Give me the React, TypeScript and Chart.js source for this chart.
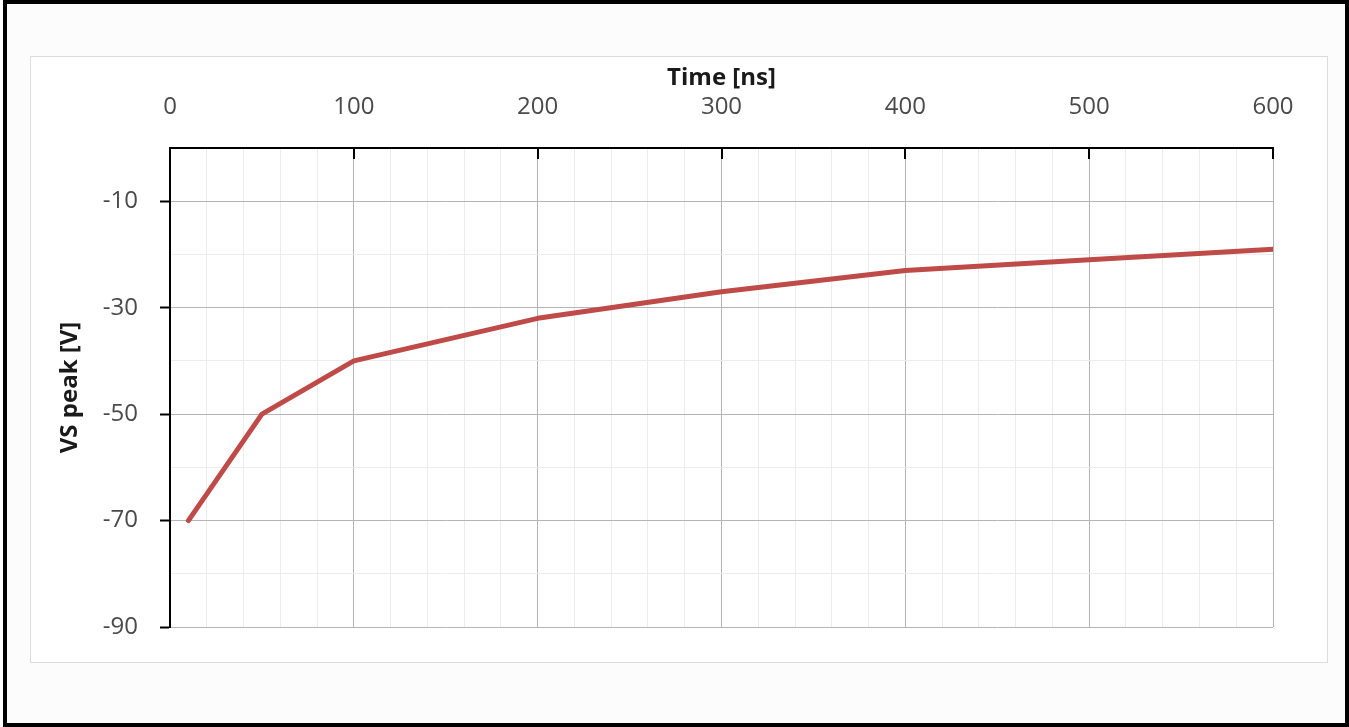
import React, { useEffect, useRef } from 'react';
import { Chart, registerables } from 'chart.js';

Chart.register(...registerables);

const timeNs = [10, 50, 100, 200, 300, 400, 500, 600];
const vsPeak = [-70, -50, -40, -32, -27, -23, -21, -19];

const xGridValues = [0, 20, 40, 60, 80, 100, 120, 140, 160, 180, 200, 220, 240, 260, 280, 300, 320, 340, 360, 380, 400, 420, 440, 460, 480, 500, 520, 540, 560, 580, 600];
const xLabelValues = [0, 100, 200, 300, 400, 500, 600];
const yGridValues = [-90, -80, -70, -60, -50, -40, -30, -20, -10, 0];
const yLabelValues = [-90, -70, -50, -30, -10];

const xTitle = 'Time [ns]';
const yTitle = 'VS peak [V]';

const FONT = "'Open Sans', 'DejaVu Sans', sans-serif";

const innerTicks = {
  id: 'innerTicks',
  afterDatasetsDraw(chart: any) {
    const { ctx, chartArea, scales } = chart;
    const x = scales.x;
    ctx.save();
    ctx.strokeStyle = '#000000';
    ctx.lineWidth = 2;
    for (const v of xLabelValues) {
      const px = Math.round(x.getPixelForValue(v));
      ctx.beginPath();
      ctx.moveTo(px, chartArea.top);
      ctx.lineTo(px, chartArea.top + 11);
      ctx.stroke();
    }
    ctx.restore();
  },
};

export default function App() {
  const canvasRef = useRef<HTMLCanvasElement | null>(null);

  useEffect(() => {
    const canvas = canvasRef.current;
    if (!canvas) return;
    const chart = new Chart(canvas, {
      type: 'line',
      data: {
        datasets: [
          {
            label: yTitle,
            data: timeNs.map((t, i) => ({ x: t, y: vsPeak[i] })),
            borderColor: '#be4b48',
            backgroundColor: '#be4b48',
            borderWidth: 5,
            pointRadius: 0,
            tension: 0,
            borderJoinStyle: 'round',
            borderCapStyle: 'round',
          },
        ],
      },
      options: {
        responsive: false,
        animation: false,
        devicePixelRatio: 1,
        layout: { padding: { left: 0, top: 0, right: 76, bottom: 100 } },
        plugins: {
          legend: { display: false },
          tooltip: { enabled: false },
        },
        scales: {
          x: {
            type: 'linear',
            position: 'top',
            min: 0,
            max: 600,
            afterBuildTicks: (scale: any) => {
              scale.ticks = xGridValues.map((v) => ({ value: v }));
            },
            afterFit: (scale: any) => {
              scale.height = 148;
            },
            ticks: {
              autoSkip: false,
              maxRotation: 0,
              padding: 26,
              color: '#4a4a4a',
              font: { family: FONT, size: 24 },
              callback: (v: any) => (xLabelValues.includes(Number(v)) ? String(v) : ''),
            },
            grid: {
              drawTicks: false,
              lineWidth: 1,
              color: (c: any) => (xLabelValues.includes(c.tick?.value) ? '#b4b4b4' : '#ececec'),
            },
            border: { display: true, color: '#000000', width: 2 },
            title: {
              display: true,
              text: xTitle,
              color: '#1a1a1a',
              font: { family: FONT, size: 24, weight: 'bold' },
              padding: { top: 64, bottom: 0 },
            },
          },
          y: {
            type: 'linear',
            min: -90,
            max: 0,
            afterBuildTicks: (scale: any) => {
              scale.ticks = yGridValues.map((v) => ({ value: v }));
            },
            afterFit: (scale: any) => {
              scale.width = 170;
            },
            ticks: {
              autoSkip: false,
              padding: 22,
              color: '#4a4a4a',
              font: { family: FONT, size: 24 },
              callback: (v: any) => (yLabelValues.includes(Number(v)) ? String(v) : ''),
            },
            grid: {
              drawTicks: true,
              tickLength: 10,
              tickWidth: 2,
              tickColor: (c: any) => (yLabelValues.includes(c.tick?.value) ? '#000000' : 'rgba(0,0,0,0)'),
              lineWidth: 1,
              color: (c: any) => (yLabelValues.includes(c.tick?.value) ? '#b4b4b4' : '#ececec'),
            },
            border: { display: true, color: '#000000', width: 2 },
            title: {
              display: true,
              text: yTitle,
              color: '#1a1a1a',
              font: { family: FONT, size: 24, weight: 'bold' },
              padding: { top: 56, bottom: 0 },
            },
          },
        },
      },
      plugins: [innerTicks],
    } as any);
    return () => chart.destroy();
  }, []);

  return (
    <div
      style={{
        position: 'fixed',
        left: 0,
        top: 0,
        width: 1349,
        height: 727,
        background: '#ffffff',
        overflow: 'hidden',
      }}
    >
      <div
        style={{
          position: 'absolute',
          left: 3,
          top: 0,
          width: 1346,
          height: 727,
          boxSizing: 'border-box',
          border: '4px solid #000000',
          background: '#fcfcfc',
        }}
      />
      <div
        style={{
          position: 'absolute',
          left: 30,
          top: 56,
          width: 1298,
          height: 607,
          boxSizing: 'border-box',
          border: '1px solid #dcdcdc',
          background: '#ffffff',
        }}
      />
      <canvas
        ref={canvasRef}
        width={1349}
        height={727}
        style={{ position: 'absolute', left: 0, top: 0, width: 1349, height: 727 }}
      />
    </div>
  );
}
